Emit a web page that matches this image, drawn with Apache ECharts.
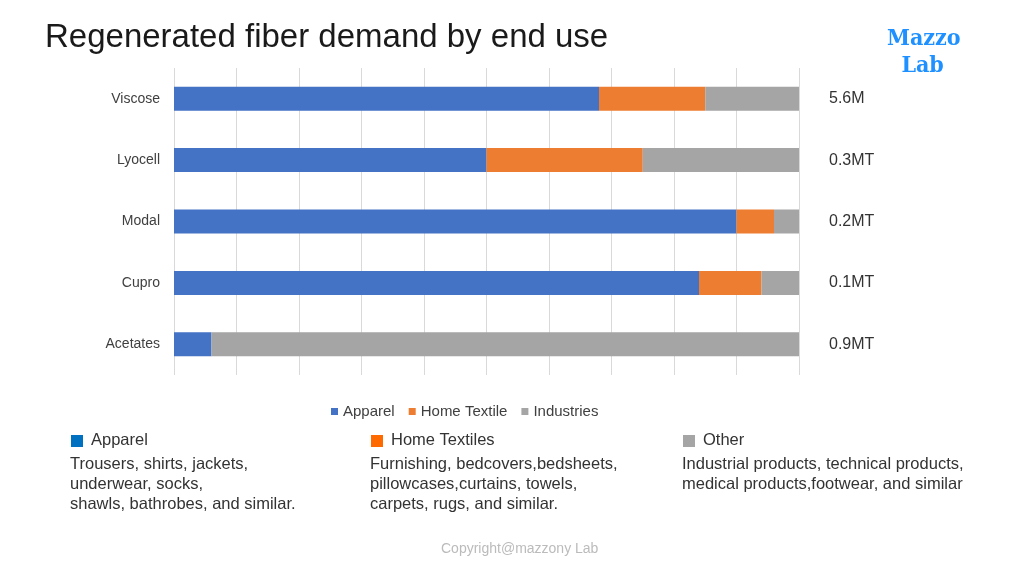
<!DOCTYPE html>
<html>
<head>
<meta charset="utf-8">
<script src="https://cdn.jsdelivr.net/npm/echarts@6/dist/echarts.min.js"></script>
<style>
  html, body { margin: 0; padding: 0; background: #fff; }
  #main { width: 1024px; height: 576px; }
</style>
</head>
<body>
<div id="main"></div>
<script>
// 数据
var fibers = ['Viscose', 'Lyocell', 'Modal', 'Cupro', 'Acetates'];
var volumes = ['5.6M', '0.3MT', '0.2MT', '0.1MT', '0.9MT'];
var apparel = [68, 50, 90, 84, 6];
var homeTextile = [17, 25, 6, 10, 0];
var industries = [15, 25, 4, 6, 94];

var notes = [
    { title: 'Apparel', color: '#0070c0', x: 70,
      lines: ['Trousers, shirts, jackets,', 'underwear, socks,', 'shawls, bathrobes, and similar.'] },
    { title: 'Home Textiles', color: '#ff6a00', x: 370,
      lines: ['Furnishing, bedcovers,bedsheets,', 'pillowcases,curtains, towels,', 'carpets, rugs, and similar.'] },
    { title: 'Other', color: '#a5a5a5', x: 682,
      lines: ['Industrial products, technical products,', 'medical products,footwear, and similar'] }
];

var chart = echarts.init(document.getElementById('main'));
var font = '"Liberation Sans", "Noto Sans", sans-serif';

var graphics = [
    {
        type: 'text', left: 45, top: 21,
        style: { text: 'Regenerated fiber demand by end use', fontSize: 33, fontFamily: font, fill: '#1a1a1a' }
    },
    {
        type: 'text', left: 887, top: 26,
        style: { text: 'Mazzo\n  Lab', fontSize: 23, fontWeight: 'bold',
                 fontFamily: '"DejaVu Serif Condensed", "DejaVu Serif", serif',
                 fill: '#1e90ff', lineHeight: 27 }
    },
    {
        type: 'text', left: 441, top: 542,
        style: { text: 'Copyright@mazzony Lab', fontSize: 14, fontFamily: font, fill: '#bbbbbb' }
    }
];
notes.forEach(function (n) {
    graphics.push({ type: 'rect', shape: { x: n.x + 1, y: 435, width: 12, height: 12 }, style: { fill: n.color } });
    graphics.push({ type: 'text', left: n.x + 21, top: 432,
        style: { text: n.title, fontSize: 16.5, fontFamily: font, fill: '#333' } });
    graphics.push({ type: 'text', left: n.x, top: 454,
        style: { text: n.lines.join('\n'), fontSize: 16.5, lineHeight: 20, fontFamily: font, fill: '#333' } });
});

var option = {
    backgroundColor: '#fff',
    color: ['#4472c4', '#ed7d31', '#a5a5a5'],
    textStyle: { fontFamily: font },
    grid: { left: 174, right: 225, top: 68, bottom: 201 },
    legend: {
        left: 326, top: 399,
        itemWidth: 7, itemHeight: 7, itemGap: 14,
        icon: 'rect',
        textStyle: { fontSize: 15, color: '#404040', fontFamily: font },
        data: ['Apparel', 'Home Textile', 'Industries']
    },
    xAxis: {
        type: 'value', min: 0, max: 100, interval: 10,
        axisLabel: { show: false },
        axisLine: { show: false },
        axisTick: { show: false },
        splitLine: { lineStyle: { color: '#d9d9d9' } }
    },
    yAxis: [
        {
            type: 'category', inverse: true, data: fibers,
            axisLine: { show: false }, axisTick: { show: false },
            axisLabel: { fontSize: 14, color: '#404040', margin: 14 }
        },
        {
            type: 'category', inverse: true, data: volumes, position: 'right',
            axisLine: { show: false }, axisTick: { show: false },
            axisLabel: { fontSize: 16, color: '#333', margin: 30, align: 'left' }
        }
    ],
    series: [
        { name: 'Apparel', type: 'bar', stack: 'total', barWidth: 24, data: apparel },
        { name: 'Home Textile', type: 'bar', stack: 'total', barWidth: 24, data: homeTextile },
        { name: 'Industries', type: 'bar', stack: 'total', barWidth: 24, data: industries }
    ],
    graphic: graphics
};
chart.setOption(option);
</script>
</body>
</html>
